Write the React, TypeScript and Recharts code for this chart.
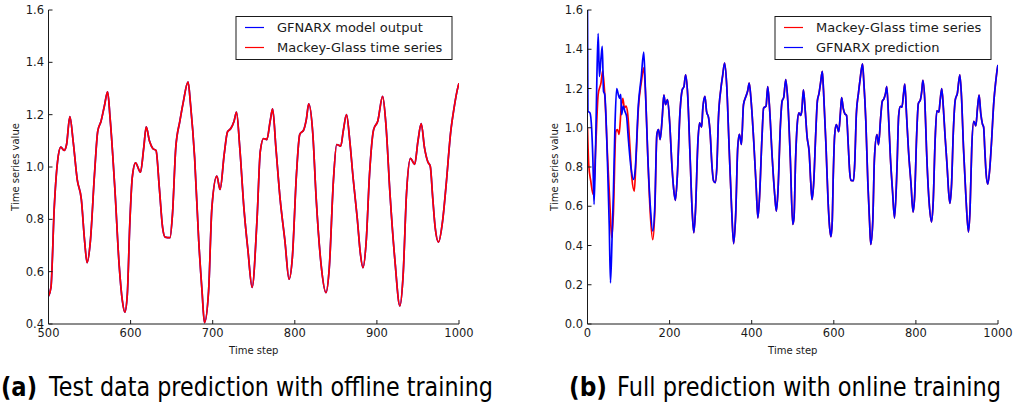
import { LineChart, Line, XAxis, YAxis, Label } from "recharts";

// Mackey-Glass series on the test range (500..1000)
const testSteps = [
  500, 503, 507, 511, 515, 519, 522, 526, 530, 535, 540, 544, 547, 551, 556, 560, 564, 568, 572, 575,
  581, 586, 590, 593, 596, 599, 602, 606, 612, 616, 619, 623, 627, 631, 635, 639, 642, 648, 651, 655,
  660, 664, 670, 673, 678, 683, 687, 690, 695, 699, 705, 709, 714, 718, 722, 726, 729, 733, 738, 743,
  748, 754, 758, 762, 766, 770, 773, 777, 782, 788, 793, 797, 802, 806, 811, 814, 817, 822, 826, 832,
  838, 842, 847, 851, 856, 859, 863, 867, 871, 876, 880, 883, 887, 891, 896, 901, 907, 911, 916, 922,
  928, 932, 936, 941, 946, 950, 954, 958, 962, 965, 968, 971, 975, 980, 984, 990, 994, 999, 1000,
];
const testValues = [
  0.507, 0.54, 0.844, 1.02, 1.076, 1.063, 1.086, 1.193, 1.099, 0.952, 0.876, 0.717, 0.634, 0.717, 0.971, 1.137, 1.175, 1.232, 1.287, 1.188,
  0.908, 0.628, 0.488, 0.445, 0.513, 0.78, 0.959, 1.016, 0.98, 1.073, 1.153, 1.099, 1.071, 1.063, 0.92, 0.768, 0.732, 0.73, 0.819, 1.073,
  1.175, 1.245, 1.325, 1.239, 1.035, 0.717, 0.526, 0.405, 0.526, 0.844, 0.965, 0.914, 1.048, 1.134, 1.147, 1.175, 1.21, 1.073, 0.844, 0.679,
  0.54, 0.8, 1.061, 1.109, 1.105, 1.175, 1.222, 1.073, 0.882, 0.717, 0.571, 0.653, 0.971, 1.124, 1.143, 1.181, 1.241, 1.124, 0.882, 0.628,
  0.52, 0.615, 0.946, 1.086, 1.08, 1.137, 1.2, 1.099, 0.959, 0.806, 0.666, 0.615, 0.717, 0.971, 1.143, 1.175, 1.27, 1.162, 0.895, 0.641,
  0.469, 0.59, 0.895, 1.033, 1.01, 1.099, 1.166, 1.073, 1.02, 1.003, 0.882, 0.768, 0.713, 0.793, 0.92, 1.137, 1.226, 1.309, 1.32,
];

// Mackey-Glass series before the test range (0..494)
const earlySteps = [
  0, 3, 8, 14, 20, 26, 33, 37, 42, 49, 55, 59, 63, 69, 73, 77, 82, 86, 90, 94,
  98, 104, 108, 114, 118, 124, 131, 137, 141, 147, 153, 159, 164, 169, 173, 177, 182, 186, 190, 195,
  200, 206, 210, 214, 219, 225, 231, 235, 239, 244, 250, 255, 259, 263, 269, 273, 278, 281, 286, 290,
  295, 299, 303, 307, 311, 315, 319, 325, 329, 334, 339, 345, 351, 356, 361, 366, 370, 375, 380, 386,
  390, 394, 398, 405, 411, 415, 419, 425, 429, 435, 439, 443, 450, 456, 460, 464, 470, 474, 478, 483,
  488, 494,
];
const earlyValues = [
  1.0, 0.813, 0.728, 0.66, 0.9, 1.17, 1.23, 1.29, 1.17, 0.847, 0.59, 0.44, 0.56, 0.98, 0.99, 0.966, 1.1, 1.15, 1.1, 1.11,
  1.07, 0.88, 0.745, 0.677, 0.83, 1.1, 1.23, 1.305, 1.19, 0.847, 0.56, 0.43, 0.575, 0.966, 0.99, 0.94, 1.05, 1.166, 1.118, 1.144,
  1.033, 0.796, 0.686, 0.63, 0.762, 1.067, 1.195, 1.21, 1.27, 1.169, 0.847, 0.575, 0.465, 0.575, 0.93, 1.025, 1.003, 1.1, 1.16, 1.084,
  1.05, 0.966, 0.813, 0.73, 0.72, 0.796, 1.05, 1.2, 1.262, 1.33, 1.22, 0.9, 0.592, 0.41, 0.558, 0.9, 0.966, 0.915, 1.118, 1.16,
  1.186, 1.228, 1.152, 0.93, 0.694, 0.541, 0.643, 0.949, 1.1, 1.11, 1.21, 1.118, 0.847, 0.66, 0.575, 0.677, 1.016, 1.135, 1.155, 1.245,
  1.135, 0.847,
];

// GFNARX online prediction where it departs from the series (0..169)
const predEarlySteps = [
  0, 1, 6, 10, 13, 16, 20, 23, 26, 29, 33, 36, 39, 42, 49, 53, 56, 60, 63, 67,
  71, 75, 78, 81, 83, 87, 91, 95, 100, 106, 112, 116, 124, 131, 137, 141, 147, 153, 159, 164,
  169,
];
const predEarlyValues = [
  1.6, 1.085, 1.076, 1.0, 0.847, 0.61, 0.93, 1.27, 1.48, 1.262, 1.356, 1.415, 1.186, 1.17, 0.8, 0.5, 0.21, 0.45, 0.66, 1.016,
  1.2, 1.17, 1.15, 1.17, 1.067, 1.11, 1.084, 1.06, 0.93, 0.796, 0.737, 0.78, 1.12, 1.26, 1.386, 1.2, 0.85, 0.6, 0.474, 0.6,
  0.966,
];

const leftXTicks = [500, 600, 700, 800, 900, 1000];
const leftYTicks = [0.4, 0.6, 0.8, 1.0, 1.2, 1.4, 1.6];
const rightXTicks = [0, 200, 400, 600, 800, 1000];
const rightYTicks = [0, 0.2, 0.4, 0.6, 0.8, 1.0, 1.2, 1.4, 1.6];

const toPoints = (steps: number[], values: number[]) =>
  steps.map((t, i) => ({ t, v: values[i] }));

const testSeries = toPoints(testSteps, testValues);
const fullSeries = toPoints([...earlySteps, ...testSteps], [...earlyValues, ...testValues]);
const predSeries = [
  ...toPoints(predEarlySteps, predEarlyValues),
  ...fullSeries.filter((p) => p.t > 169),
];

const INK = "#1a1a1a";
const FONT = "DejaVu Sans, sans-serif";

interface Serie {
  name: string;
  color: string;
  data: { t: number; v: number }[];
}

interface PanelProps {
  left: number;
  width: number;
  marginLeft: number;
  marginRight: number;
  xDomain: [number, number];
  xTicks: number[];
  yDomain: [number, number];
  yTicks: number[];
  series: Serie[];
}

function Panel({ left, width, marginLeft, marginRight, xDomain, xTicks, yDomain, yTicks, series }: PanelProps) {
  const tickStyle = { fill: INK, fontSize: 11.5, fontFamily: FONT };
  return (
    <div style={{ position: "absolute", left, top: 0 }}>
      <LineChart
        width={width}
        height={360}
        margin={{ top: 10, right: marginRight, bottom: 6, left: marginLeft }}
      >
        <XAxis
          dataKey="t"
          type="number"
          domain={xDomain}
          ticks={xTicks}
          allowDataOverflow
          height={30}
          stroke={INK}
          tickSize={-4}
          tickMargin={9}
          tick={tickStyle}
        >
          <Label
            value="Time step"
            position="insideBottom"
            offset={0}
            style={{ fill: INK, fontSize: 10, fontFamily: FONT }}
          />
        </XAxis>
        <XAxis
          xAxisId="top"
          orientation="top"
          type="number"
          domain={xDomain}
          ticks={xTicks}
          height={0}
          stroke={INK}
          tickSize={-4}
          tick={false}
        />
        <YAxis
          type="number"
          domain={yDomain}
          ticks={yTicks}
          allowDataOverflow
          width={40}
          stroke={INK}
          tickSize={-4}
          tickMargin={8.5}
          tick={tickStyle}
          tickFormatter={(v: number) => v.toFixed(1)}
        >
          <Label
            value="Time series value"
            angle={-90}
            position="insideLeft"
            offset={7}
            style={{ fill: INK, fontSize: 10, fontFamily: FONT, textAnchor: "middle" }}
          />
        </YAxis>
        <YAxis
          yAxisId="right"
          orientation="right"
          type="number"
          domain={yDomain}
          ticks={yTicks}
          width={0}
          stroke={INK}
          tickSize={-4}
          tick={false}
        />
        {series.map((s) => (
          <Line
            key={s.name}
            data={s.data}
            dataKey="v"
            name={s.name}
            type="monotone"
            stroke={s.color}
            strokeWidth={1.7}
            dot={false}
            activeDot={false}
            isAnimationActive={false}
          />
        ))}
      </LineChart>
    </div>
  );
}

function LegendBox({ x, items }: { x: number; items: { name: string; color: string }[] }) {
  return (
    <g>
      <rect x={x} y={16.5} width={216} height={43} fill="#fff" stroke={INK} strokeWidth={1} />
      {items.map((it, i) => (
        <g key={it.name}>
          <line x1={x + 9} x2={x + 28} y1={27.5 + i * 20} y2={27.5 + i * 20} stroke={it.color} strokeWidth={1.2} />
          <text x={x + 41} y={32 + i * 20} fontSize={13} fontFamily={FONT} fill={INK}>
            {it.name}
          </text>
        </g>
      ))}
    </g>
  );
}

export default function App() {
  return (
    <div style={{ position: "absolute", left: 0, top: 0, width: 1013, height: 412, background: "#fff" }}>
      <Panel
        left={0}
        width={480}
        marginLeft={8.5}
        marginRight={21}
        xDomain={[500, 1000]}
        xTicks={leftXTicks}
        yDomain={[0.4, 1.6]}
        yTicks={leftYTicks}
        series={[
          { name: "GFNARX model output", color: "#0000ff", data: testSeries },
          { name: "Mackey-Glass time series", color: "#ff0000", data: testSeries },
        ]}
      />
      <Panel
        left={540}
        width={473}
        marginLeft={7.5}
        marginRight={15}
        xDomain={[0, 1000]}
        xTicks={rightXTicks}
        yDomain={[0, 1.6]}
        yTicks={rightYTicks}
        series={[
          { name: "Mackey-Glass time series", color: "#ff0000", data: fullSeries },
          { name: "GFNARX prediction", color: "#0000ff", data: predSeries },
        ]}
      />
      <svg width={1013} height={412} style={{ position: "absolute", left: 0, top: 0, pointerEvents: "none" }}>
        <LegendBox
          x={236}
          items={[
            { name: "GFNARX model output", color: "#0000ff" },
            { name: "Mackey-Glass time series", color: "#ff0000" },
          ]}
        />
        <LegendBox
          x={775}
          items={[
            { name: "Mackey-Glass time series", color: "#ff0000" },
            { name: "GFNARX prediction", color: "#0000ff" },
          ]}
        />
        <g fontFamily={FONT} fontSize={26} fill="#000">
          <text x={1} y={396} fontWeight="bold" textLength={36} lengthAdjust="spacingAndGlyphs">(a)</text>
          <text x={49} y={396} textLength={444} lengthAdjust="spacingAndGlyphs">Test data prediction with offline training</text>
          <text x={569} y={396} fontWeight="bold" textLength={38} lengthAdjust="spacingAndGlyphs">(b)</text>
          <text x={617} y={396} textLength={384} lengthAdjust="spacingAndGlyphs">Full prediction with online training</text>
        </g>
      </svg>
    </div>
  );
}
